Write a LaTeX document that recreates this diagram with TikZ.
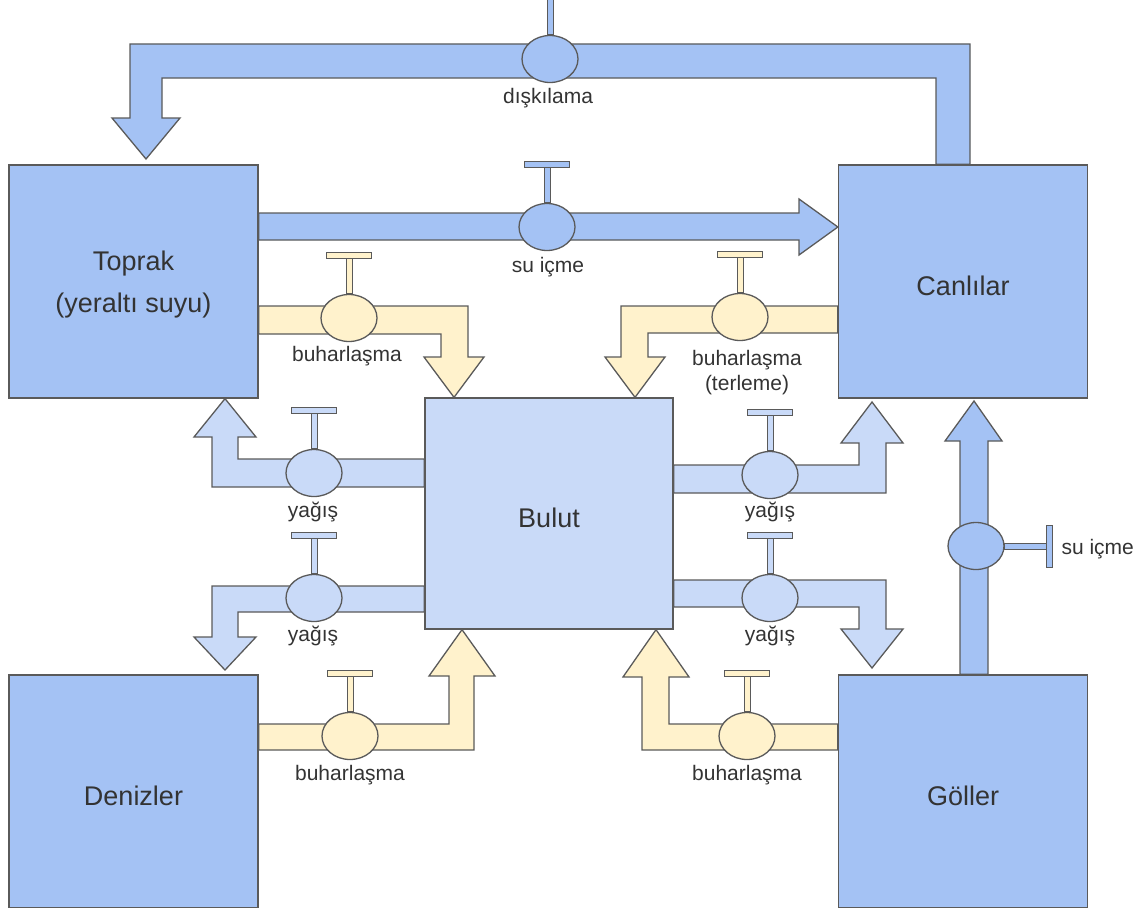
\documentclass[tikz,border=0pt]{standalone}
\usepackage{fontspec}
\setmainfont{Liberation Sans}
\usetikzlibrary{shapes.geometric,calc}
\definecolor{boxblue}{HTML}{A4C2F4}
\definecolor{cloudblue}{HTML}{C9DAF8}
\definecolor{vapour}{HTML}{FFF2CC}
\definecolor{edgegray}{HTML}{5A5A5A}
\definecolor{txtgray}{HTML}{333333}

\begin{document}
\begin{tikzpicture}[x=1pt,y=-1pt,
  tank/.style={rectangle,draw=edgegray,line width=1.3pt,fill=boxblue,
    minimum width=249pt,minimum height=233pt,align=center,text=txtgray,
    text height=27pt,text depth=0pt,font=\fontsize{27}{42}\selectfont},
  tanktext/.style={align=center,text=txtgray,font=\fontsize{27}{42}\selectfont},
  valve/.style={ellipse,draw=edgegray,line width=1.3pt,
    minimum width=56pt,minimum height=47pt,inner sep=0pt},
  pipe/.style={draw=edgegray,line width=1.3pt,line join=miter},
  lbl/.style={text=txtgray,font=\fontsize{21}{25}\selectfont,align=center}]

  \useasboundingbox (0,0) rectangle (1147,907);

  % tanks
  \node[tank] (toprak) at (133.5,281.5) {};
  \node[tanktext] (topraktext) at (133.5,285) {Toprak\\(yeraltı suyu)};
  \node[tank] (canlilar) at (963,281.5) {Canlılar};
  \node[tank,fill=cloudblue,minimum width=248pt,minimum height=231pt] (bulut) at (549,513.5) {Bulut};
  \node[tank] (denizler) at (133.5,791.5) {Denizler};
  \node[tank] (goller) at (963,791.5) {Göller};

  % blue pipes
  \draw[pipe,fill=boxblue] (canlilar.north -| 936,0) -- (936,78) -- (162,78) -- (162,118)
    -- (180,118) -- (146,159) -- (112,118) -- (130,118) -- (130,44) -- (970,44)
    -- (canlilar.north -| 970,0) -- cycle;
  \draw[pipe,fill=boxblue] (toprak.east |- 0,213) -- (799,213) -- (799,199)
    -- (canlilar.west |- 0,227) -- (799,255) -- (799,240) -- (toprak.east |- 0,240) -- cycle;
  \draw[pipe,fill=boxblue] (goller.north -| 960,0) -- (960,441) -- (945,441)
    -- (974,401) -- (1002,441) -- (988,441) -- (goller.north -| 988,0) -- cycle;

  % evaporation
  \draw[pipe,fill=vapour] (toprak.east |- 0,306) -- (468,306) -- (468,357) -- (484,357)
    -- (bulut.north -| 454,0) -- (424,357) -- (441,357) -- (441,334) -- (toprak.east |- 0,334) -- cycle;
  \draw[pipe,fill=vapour] (canlilar.west |- 0,306) -- (621,306) -- (621,357) -- (605,357)
    -- (bulut.north -| 635,0) -- (665,357) -- (648,357) -- (648,333) -- (canlilar.west |- 0,333) -- cycle;
  \draw[pipe,fill=vapour] (denizler.east |- 0,750) -- (474,750) -- (474,676) -- (495,676)
    -- (bulut.south -| 462,0) -- (429,676) -- (449,676) -- (449,724) -- (denizler.east |- 0,724) -- cycle;
  \draw[pipe,fill=vapour] (goller.west |- 0,750) -- (642,750) -- (642,677) -- (623,677)
    -- (bulut.south -| 656,0) -- (689,677) -- (669,677) -- (669,724) -- (goller.west |- 0,724) -- cycle;

  % rain
  \draw[pipe,fill=cloudblue] (bulut.west |- 0,487) -- (212,487) -- (212,437) -- (194,437)
    -- (toprak.south -| 225,0) -- (256,437) -- (238,437) -- (238,459) -- (bulut.west |- 0,459) -- cycle;
  \draw[pipe,fill=cloudblue] (bulut.west |- 0,586) -- (212,586) -- (212,637) -- (194,637)
    -- (225,670) -- (256,637) -- (238,637) -- (238,612) -- (bulut.west |- 0,612) -- cycle;
  \draw[pipe,fill=cloudblue] (bulut.east |- 0,465) -- (859,465) -- (859,443) -- (841,443)
    -- (872,402) -- (903,443) -- (886,443) -- (886,493) -- (bulut.east |- 0,493) -- cycle;
  \draw[pipe,fill=cloudblue] (bulut.east |- 0,580) -- (886,580) -- (886,629) -- (903,629)
    -- (872,668) -- (841,629) -- (859,629) -- (859,607) -- (bulut.east |- 0,607) -- cycle;

  % valves
  \node[valve,fill=boxblue] (vdisk) at (550,59) {};
  \node[valve,fill=boxblue] (vicme) at (547,227) {};
  \node[valve,fill=boxblue] (vicmeG) at (976,546) {};
  \node[valve,fill=vapour] (vbuhT) at (349,318) {};
  \node[valve,fill=vapour] (vterl) at (740,317) {};
  \node[valve,fill=vapour] (vbuhD) at (350,736) {};
  \node[valve,fill=vapour] (vbuhG) at (747,736) {};
  \node[valve,fill=cloudblue] (vyagT) at (314,473) {};
  \node[valve,fill=cloudblue] (vyagD) at (314,598) {};
  \node[valve,fill=cloudblue] (vyagC) at (770,475) {};
  \node[valve,fill=cloudblue] (vyagG) at (770,598) {};

  % handles
  \foreach \v/\c in {vicme/boxblue,vbuhT/vapour,vterl/vapour,vbuhD/vapour,vbuhG/vapour,
      vyagT/cloudblue,vyagD/cloudblue,vyagC/cloudblue,vyagG/cloudblue} {
    \draw[pipe,line width=1pt,fill=\c] ($(\v.north)+(-3,0)$) rectangle ($(\v.north)+(3,-35)$);
    \draw[pipe,line width=1pt,fill=\c] ($(\v.north)+(-22.5,-35)$) rectangle ($(\v.north)+(22.5,-41)$);
  }
  \draw[pipe,line width=1pt,fill=boxblue] ($(vdisk.north)+(-3,0)$) rectangle ($(vdisk.north)+(3,-50)$);
  \draw[pipe,line width=1pt,fill=boxblue] ($(vicmeG.east)+(0,-3)$) rectangle ($(vicmeG.east)+(42,3)$);
  \draw[pipe,line width=1pt,fill=boxblue] ($(vicmeG.east)+(42,-21)$) rectangle ($(vicmeG.east)+(48,21)$);

  % labels
  \node[lbl] (ldisk) at (548,98) {dışkılama};
  \node[lbl] (licme) at (548,267) {su içme};
  \node[lbl,anchor=west] (licmeG) at (1058,549) {su içme};
  \node[lbl] (lbuhT) at (347,356) {buharlaşma};
  \node[lbl] (lterl) at (747,373) {buharlaşma\\(terleme)};
  \node[lbl] (lbuhD) at (350,775) {buharlaşma};
  \node[lbl] (lbuhG) at (747,775) {buharlaşma};
  \node[lbl] (lyagT) at (313,512) {yağış};
  \node[lbl] (lyagD) at (313,636) {yağış};
  \node[lbl] (lyagC) at (770,512) {yağış};
  \node[lbl] (lyagG) at (770,636) {yağış};
\end{tikzpicture}
\end{document}
